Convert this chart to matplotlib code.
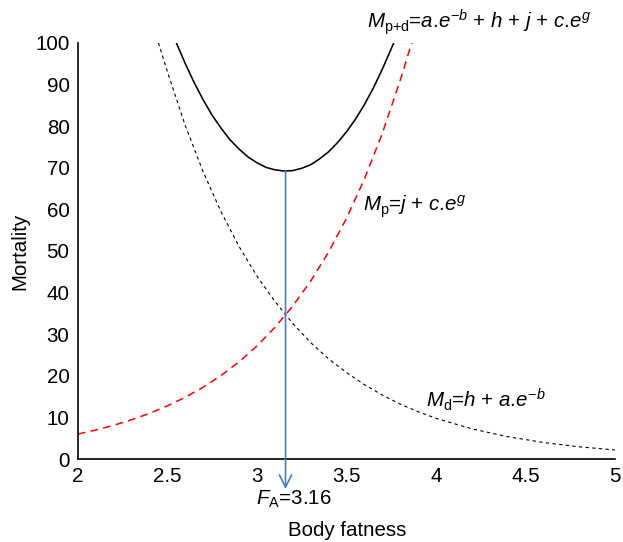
import matplotlib
matplotlib.use("Agg")
import matplotlib.pyplot as plt

plt.rcParams['font.family'] = ['Liberation Sans', 'DejaVu Sans']
plt.rcParams['mathtext.fontset'] = 'custom'
plt.rcParams['mathtext.rm'] = 'Liberation Sans'
plt.rcParams['mathtext.it'] = 'Liberation Sans:italic'
plt.rcParams['mathtext.bf'] = 'Liberation Sans:bold'

# Mortality from underweight-related diseases (M_d)
md_x = [2.45, 2.5, 2.6, 2.7, 2.8, 2.9, 3.0, 3.1, 3.2, 3.3, 3.4, 3.5, 3.6, 3.7,
        3.8, 3.9, 4.0, 4.2, 4.4, 4.6, 4.8, 5.0]
md_y = [100.0, 93.1, 80.1, 69.0, 59.4, 51.1, 44.0, 37.9, 32.6, 28.0, 24.1, 20.8,
        17.9, 15.4, 13.2, 11.4, 9.8, 7.27, 5.39, 3.99, 2.95, 2.19]

# Mortality from obesity-related diseases (M_p)
mp_x = [2.0, 2.1, 2.2, 2.3, 2.4, 2.5, 2.6, 2.7, 2.8, 2.9, 3.0, 3.1, 3.2, 3.3,
        3.4, 3.5, 3.6, 3.7, 3.8, 3.865]
mp_y = [6.0, 6.98, 8.12, 9.44, 10.98, 12.77, 14.85, 17.27, 20.08, 23.35, 27.16,
        31.59, 36.74, 42.72, 49.69, 57.79, 67.21, 78.17, 90.91, 100.0]

# Total mortality (M_p+d)
mpd_x = [2.55, 2.6, 2.65, 2.7, 2.75, 2.8, 2.85, 2.9, 2.95, 3.0, 3.05, 3.1, 3.15,
         3.2, 3.25, 3.3, 3.35, 3.4, 3.45, 3.5, 3.55, 3.6, 3.65, 3.7, 3.765]
mpd_y = [100.0, 95.0, 90.4, 86.3, 82.6, 79.5, 76.7, 74.5, 72.6, 71.2, 70.1, 69.5,
         69.2, 69.3, 69.85, 70.7, 72.1, 73.8, 76.0, 78.6, 81.6, 85.1, 89.1, 93.6,
         100.0]

fa_x = 3.16
fa_y = 69.3

xticks = [2, 2.5, 3, 3.5, 4, 4.5, 5]
xtick_labels = ['2', '2.5', '3', '3.5', '4', '4.5', '5']
yticks = [0, 10, 20, 30, 40, 50, 60, 70, 80, 90, 100]

FS = 14.8

fig = plt.figure(figsize=(6.23, 5.42), dpi=100)
ax = fig.add_axes([0.125, 0.153, 0.862, 0.768])

ax.plot(md_x, md_y, color='black', lw=0.8, linestyle=(0, (3, 3)))
ax.plot(mp_x, mp_y, color='#ff0000', lw=1.1, linestyle=(0, (5, 3.5)))
ax.plot(mpd_x, mpd_y, color='black', lw=1.15)

ax.annotate('', xy=(fa_x, -7.2), xytext=(fa_x, fa_y),
            arrowprops=dict(arrowstyle='->', color='#4a7ebb', lw=1.2,
                            mutation_scale=22, shrinkA=0, shrinkB=0),
            annotation_clip=False)

ax.set_xlim(2, 5)
ax.set_ylim(0, 100)
ax.set_xticks(xticks)
ax.set_xticklabels(xtick_labels)
ax.set_yticks(yticks)
ax.tick_params(length=0, labelsize=FS, pad=6)
for s in ['top', 'right']:
    ax.spines[s].set_visible(False)
for s in ['left', 'bottom']:
    ax.spines[s].set_linewidth(1.2)

fig.text(347 / 623, 1 - 530 / 542, 'Body fatness', fontsize=FS,
         ha='center', va='center')
fig.text(20 / 623, 1 - 251 / 542, 'Mortality', fontsize=FS,
         ha='center', va='center', rotation=90)

fig.text(294 / 623, 1 - 499 / 542, r'$F_{\mathrm{A}}$=3.16', fontsize=FS,
         ha='center', va='center')
fig.text(367 / 623, 1 - 22 / 542,
         r'$M_{\mathrm{p{+}d}}$=$a$.$e^{-b}$ + $h$ + $j$ + $c$.$e^{g}$',
         fontsize=FS, ha='left', va='center')
fig.text(363 / 623, 1 - 207 / 542, r'$M_{\mathrm{p}}$=$j$ + $c$.$e^{g}$',
         fontsize=FS, ha='left', va='center')
fig.text(426 / 623, 1 - 400 / 542, r'$M_{\mathrm{d}}$=$h$ + $a$.$e^{-b}$',
         fontsize=FS, ha='left', va='center')

fig.savefig('out.png', dpi=100)
